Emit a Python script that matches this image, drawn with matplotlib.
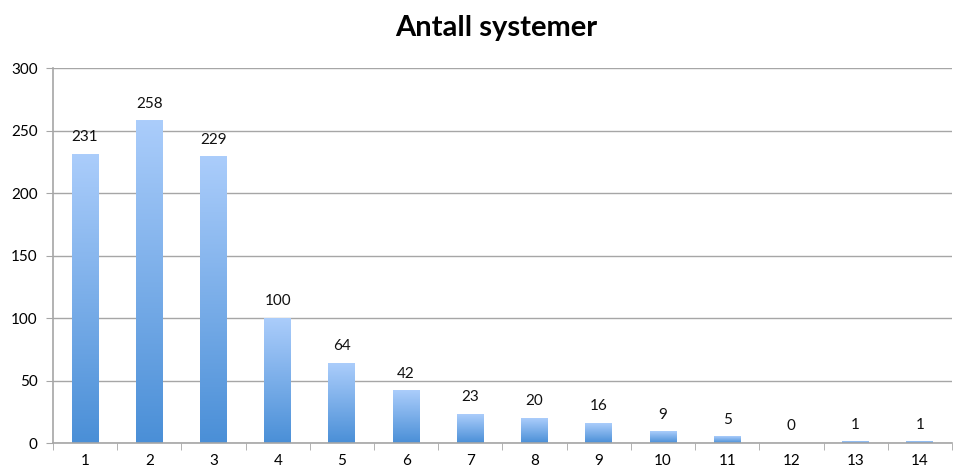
import matplotlib
matplotlib.use("Agg")
import matplotlib.pyplot as plt
import numpy as np
from matplotlib.colors import LinearSegmentedColormap

# data
categories = ["1", "2", "3", "4", "5", "6", "7", "8", "9", "10", "11", "12", "13", "14"]
counts = [231, 258, 229, 100, 64, 42, 23, 20, 16, 9, 5, 0, 1, 1]

TOP = "#abcdfb"
BOTTOM = "#4a8fd7"
GRID = "#a6a6a6"

plt.rcParams["font.family"] = ["Lato", "DejaVu Sans"]

fig = plt.figure(figsize=(9.58, 4.74), dpi=100)
ax = fig.add_axes([0.0553, 0.0654, 0.9384, 0.7911])

x = np.arange(len(categories))
width = 0.42
bars = ax.bar(x, counts, width=width, color="none", zorder=2)

grad = np.linspace(0, 1, 256).reshape(-1, 1)
cmap = LinearSegmentedColormap.from_list("bar", [BOTTOM, TOP])
for b, v in zip(bars, counts):
    if v > 0:
        x0 = b.get_x()
        ax.imshow(grad, cmap=cmap, origin="lower", aspect="auto",
                  extent=(x0, x0 + b.get_width(), 0, v), zorder=2)
    ax.text(b.get_x() + b.get_width() / 2, v + 8, str(v),
            ha="center", va="bottom", fontsize=11, color="#111111")

ax.set_xlim(-0.5, len(categories) - 0.5)
ax.set_ylim(0, 300)
ax.set_yticks(range(0, 301, 50))
ax.set_xticks(x)
ax.set_xticklabels(categories)
ax.set_xticks(np.arange(-0.5, len(categories), 1.0), minor=True)
ax.tick_params(axis="x", which="major", length=0, pad=8, labelsize=11)
ax.tick_params(axis="x", which="minor", length=5, color=GRID, direction="out")
ax.tick_params(axis="y", length=5, color=GRID, labelsize=11, pad=6)

ax.grid(axis="y", color=GRID, lw=1, zorder=0)
ax.set_axisbelow(True)
for s in ("top", "right"):
    ax.spines[s].set_visible(False)
for s in ("left", "bottom"):
    ax.spines[s].set_color(GRID)
    ax.spines[s].set_linewidth(1.2)

fig.text(0.518, 0.94, "Antall systemer", fontsize=21, fontweight="bold",
         ha="center", va="center")

fig.savefig("out.png", dpi=100)
